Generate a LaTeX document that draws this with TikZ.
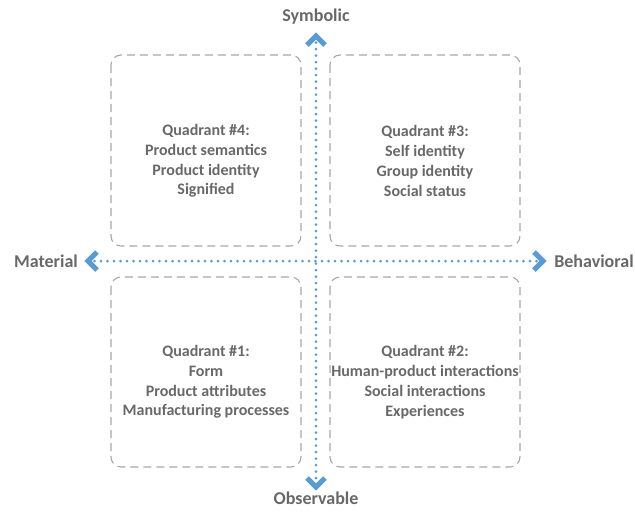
\documentclass[tikz,border=0pt]{standalone}
\usepackage{fontspec}
\setmainfont{Carlito}
\begin{document}
\begin{tikzpicture}[x=1pt,y=-1pt,
  quadbox/.style={draw=boxgray, line width=1.1pt, dash pattern=on 8pt off 5pt, rounded corners=10pt},
  qtext/.style={text=textgray, font=\bfseries\fontsize{16}{19.8}\selectfont, align=center},
  axlabel/.style={text=textgray, font=\bfseries\fontsize{18}{20}\selectfont},
  axisline/.style={draw=axblue, line width=3pt, line cap=round, dash pattern=on 0pt off 6.5pt},
  chevron/.style={draw=axblue, line width=5pt, line cap=butt, line join=miter}]
\definecolor{boxgray}{HTML}{A8A8A8}
\definecolor{textgray}{HTML}{686868}
\definecolor{axblue}{HTML}{5B9BD5}
\useasboundingbox (0,0) rectangle (635,512);
% quadrant boxes
\draw[quadbox] (111,55) rectangle (301,246);
\draw[quadbox] (330,55) rectangle (520,246);
\draw[quadbox] (111,277) rectangle (301,467);
\draw[quadbox] (330,277) rectangle (520,467);
\node[qtext] (q4) at (206,161) {Quadrant \#4:\\Product semantics\\Product identity\\Signified};
\node[qtext] (q3) at (425,161) {Quadrant \#3:\\Self identity\\Group identity\\Social status};
\node[qtext] (q1) at (206,382) {Quadrant \#1:\\Form\\Product attributes\\Manufacturing processes};
\node[qtext] (q2) at (425,382) {Quadrant \#2:\\Human-product interactions\\Social interactions\\Experiences};
% axes
\coordinate (top) at (316,36);
\coordinate (bot) at (316,487);
\coordinate (lft) at (88,261);
\coordinate (rgt) at (543,261);
\draw[axisline] (top) -- (bot);
\draw[axisline] (lft) -- (rgt);
\draw[chevron] ([shift={(-9,9)}]top) -- (top) -- ([shift={(9,9)}]top);
\draw[chevron] ([shift={(-9,-9)}]bot) -- (bot) -- ([shift={(9,-9)}]bot);
\draw[chevron] ([shift={(9,-9)}]lft) -- (lft) -- ([shift={(9,9)}]lft);
\draw[chevron] ([shift={(-9,-9)}]rgt) -- (rgt) -- ([shift={(-9,9)}]rgt);
% axis labels
\node[axlabel] (sym) at (316,17) {Symbolic};
\node[axlabel] (obs) at (316,498) {Observable};
\node[axlabel] (mat) at (46,261) {Material};
\node[axlabel] (beh) at (594,261) {Behavioral};
\end{tikzpicture}
\end{document}
